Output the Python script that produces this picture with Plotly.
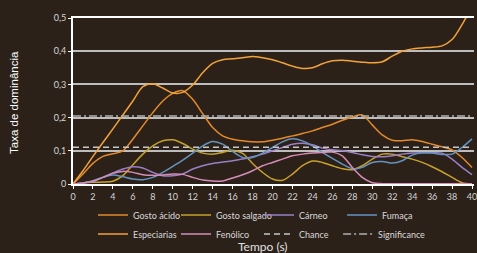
import plotly.graph_objects as go

# Time axis (s)
tempo = list(range(0, 41))

gosto_acido = [0, 0.03, 0.062, 0.083, 0.091, 0.1, 0.135, 0.175, 0.215, 0.25, 0.273,
               0.281, 0.255, 0.212, 0.17, 0.145, 0.135, 0.13, 0.127, 0.127, 0.132,
               0.138, 0.145, 0.152, 0.16, 0.17, 0.18, 0.192, 0.202, 0.208, 0.178,
               0.148, 0.132, 0.13, 0.133, 0.128, 0.12, 0.112, 0.103, 0.08, 0.05]
gosto_salgado = [0, 0.003, 0.005, 0.006, 0.008, 0.025, 0.058, 0.09, 0.115, 0.13, 0.133,
                 0.122, 0.105, 0.093, 0.09, 0.095, 0.102, 0.092, 0.062, 0.035, 0.015,
                 0.011, 0.03, 0.055, 0.069, 0.065, 0.055, 0.046, 0.043, 0.055, 0.075,
                 0.09, 0.09, 0.082, 0.075, 0.065, 0.052, 0.037, 0.02, 0.004, 0]
carneo = [0, 0.003, 0.008, 0.02, 0.033, 0.045, 0.052, 0.048, 0.035, 0.025, 0.025,
          0.03, 0.045, 0.055, 0.062, 0.066, 0.07, 0.075, 0.082, 0.09, 0.1,
          0.11, 0.12, 0.123, 0.118, 0.108, 0.103, 0.1, 0.095, 0.088, 0.083,
          0.082, 0.085, 0.09, 0.093, 0.094, 0.094, 0.093, 0.075, 0.05, 0.028]
fumaca = [0, 0.003, 0.01, 0.02, 0.027, 0.022, 0.015, 0.013, 0.02, 0.035, 0.053,
          0.072, 0.093, 0.115, 0.128, 0.12, 0.098, 0.08, 0.08, 0.093, 0.11,
          0.127, 0.136, 0.13, 0.115, 0.095, 0.077, 0.06, 0.046, 0.05, 0.065,
          0.068, 0.063, 0.07, 0.087, 0.094, 0.093, 0.089, 0.09, 0.11, 0.136]
especiarias = [0, 0.04, 0.083, 0.125, 0.166, 0.208, 0.25, 0.293, 0.302, 0.289, 0.274,
               0.276, 0.298, 0.335, 0.363, 0.374, 0.377, 0.38, 0.384, 0.38, 0.374,
               0.365, 0.355, 0.348, 0.35, 0.362, 0.371, 0.373, 0.37, 0.367, 0.365,
               0.368, 0.385, 0.4, 0.407, 0.41, 0.412, 0.416, 0.435, 0.48, 0.535]
fenolico = [0, 0.003, 0.008, 0.02, 0.032, 0.038, 0.035, 0.028, 0.026, 0.027, 0.03,
            0.029, 0.02, 0.012, 0.009, 0.009, 0.018, 0.028, 0.04, 0.055, 0.065,
            0.075, 0.085, 0.09, 0.093, 0.095, 0.096, 0.085, 0.05, 0.02, 0.004,
            0.001, 0.001, 0.001, 0.001, 0.001, 0.001, 0.001, 0.001, 0.001, 0.001]
chance = [0.111] * len(tempo)
significance = [0.205] * len(tempo)

series = [
    ("Gosto ácido", gosto_acido, "#E38A2C"),
    ("Gosto salgado", gosto_salgado, "#C8A12A"),
    ("Cárneo", carneo, "#9A7EC6"),
    ("Fumaça", fumaca, "#6593C0"),
    ("Especiarias", especiarias, "#F2A23A"),
    ("Fenólico", fenolico, "#D68CB8"),
]

fig = go.Figure()
for name, vals, color in series:
    fig.add_trace(go.Scatter(x=tempo, y=vals, name=name, mode="lines",
                             line=dict(color=color, width=1.5, shape="spline", smoothing=0.8)))
fig.add_trace(go.Scatter(x=tempo, y=chance, name="Chance", mode="lines",
                         line=dict(color="#C8C8C8", width=1.5, dash="6px,4px")))
fig.add_trace(go.Scatter(x=tempo, y=significance, name="Significance", mode="lines",
                         legend="legend2",
                         line=dict(color="#B0B0B0", width=1.5, dash="8px,3px,2px,3px")))

tick_font = dict(family="Lato, Open Sans, sans-serif", size=9, color="#D6D6D6")
legend_font = dict(family="Lato, Open Sans, sans-serif", size=9, color="#D9D9D9")

col_step = 81.7          # px between legend columns
leg_left = 93            # px, legend left edge
row1_y = -0.1            # paper y of legend top
row_h = 19 / 166         # one legend row in paper units

fig.update_layout(
    width=477, height=253,
    margin=dict(l=73, r=3, t=18, b=69, autoexpand=False),
    paper_bgcolor="#2B2119",
    plot_bgcolor="rgba(0,0,0,0)",
    separators=",.",
    showlegend=True,
    legend=dict(orientation="h", x=(leg_left - 73) / 401, xanchor="left",
                y=row1_y, yanchor="top", font=legend_font,
                bgcolor="rgba(0,0,0,0)", entrywidth=col_step - 43.7,
                entrywidthmode="pixels", tracegroupgap=0, itemwidth=30),
    legend2=dict(orientation="h", x=(leg_left + 3 * col_step - 73) / 401, xanchor="left",
                 y=row1_y - row_h, yanchor="top", font=legend_font,
                 bgcolor="rgba(0,0,0,0)", itemwidth=30),
    xaxis=dict(range=[0, 40.2], tickmode="array", tickvals=list(range(0, 41, 2)),
               showgrid=False, zeroline=False, showline=True, linecolor="#FFFFFF",
               linewidth=2, mirror=True, ticks="outside", ticklen=3, tickcolor="#FFFFFF",
               tickwidth=1, tickfont=tick_font, ticklabeloverflow="allow"),
    yaxis=dict(range=[0, 0.5], tickmode="array", tickvals=[0, 0.1, 0.2, 0.3, 0.4, 0.5],
               ticktext=["0", "0,1", "0,2", "0,3", "0,4", "0,5"],
               showgrid=True, gridcolor="#BDBDBD", gridwidth=1.5, zeroline=False,
               showline=True, linecolor="#FFFFFF", linewidth=2, ticks="outside",
               ticklen=3, tickcolor="#FFFFFF", tickfont=tick_font),
    annotations=[
        dict(text="Tempo (s)", xref="paper", yref="paper", x=0.475, y=-0.375,
             xanchor="center", yanchor="middle", showarrow=False,
             font=dict(family="Lato, Open Sans, sans-serif", size=12, color="#E0E0E0")),
        dict(text="Taxa de dominância", xref="paper", yref="paper", x=-0.149, y=0.49,
             xanchor="center", yanchor="middle", showarrow=False, textangle=-90,
             font=dict(family="Liberation Sans, Arial, sans-serif", size=11.5, color="#FFFFFF")),
    ],
)

fig.write_html("out.html",
               config={"displayModeBar": False},
               post_script="document.body.style.margin='0px';document.body.style.overflow='hidden';")
